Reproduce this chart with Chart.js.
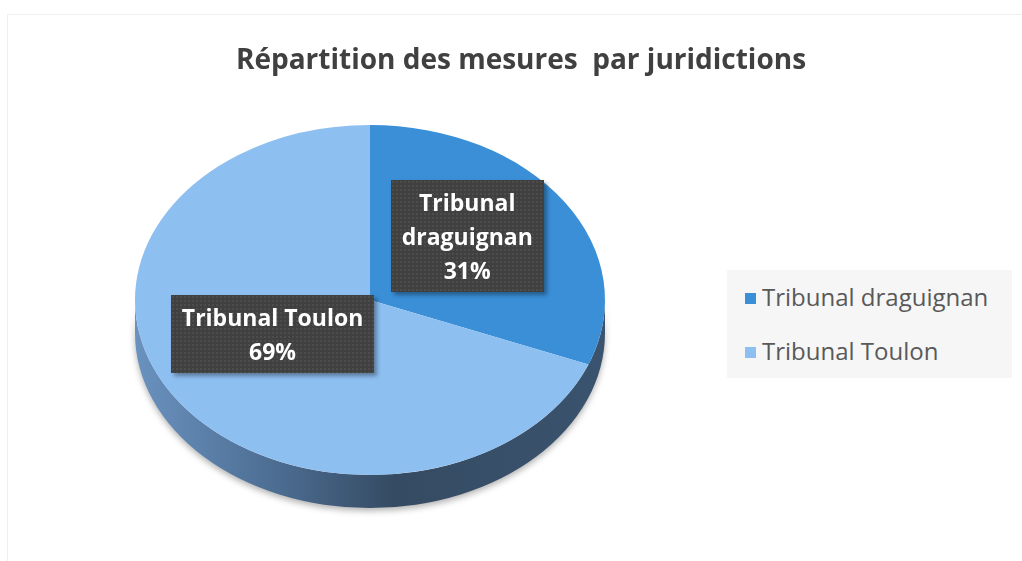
<!DOCTYPE html>
<html>
<head>
<meta charset="utf-8">
<script src="https://cdn.jsdelivr.net/npm/chart.js@4.4.1/dist/chart.umd.min.js"></script>
<style>
    html, body { margin: 0; padding: 0; background: #fff; }
    #wrap { position: relative; width: 1022px; height: 561px; overflow: hidden; }
    #frame { position: absolute; left: 7px; top: 14px; right: -2px; bottom: -2px; border: 1px solid #efefef; }
    #chart { position: absolute; left: 0; top: 0; }
    #title {
        position: absolute; left: 0; width: 1042px; top: 39px; text-align: center;
        font-family: "Open Sans", sans-serif; font-weight: 700; font-size: 28px; color: #404040;
        white-space: pre;
    }
    #legend {
        position: absolute; left: 727px; top: 270px; width: 285px; height: 108px;
        background: #f6f6f6; font-family: "Open Sans", sans-serif; font-size: 24px; color: #595959;
    }
    .leg-item { position: absolute; left: 18px; white-space: nowrap; }
    .leg-item span.sw { display: inline-block; width: 11px; height: 11px; margin-right: 6px; vertical-align: 2px; }
    .data-label {
        position: absolute; background: #404040; color: #fff; text-align: center;
        font-family: "Open Sans", sans-serif; font-weight: 700; font-size: 23px; line-height: 34px;
        padding: 5px 11px; box-shadow: 3px 3px 4px rgba(0,0,0,0.35);
        background-image: radial-gradient(rgba(255,255,255,0.07) 1px, transparent 1px);
        background-size: 4px 4px;
    }
</style>
</head>
<body>
<div id="wrap">
    <div id="frame"></div>
    <canvas id="chart" width="1022" height="561"></canvas>
    <div id="title">Répartition des mesures  par juridictions</div>
    <div id="legend"></div>
</div>
<script>
// Data
const categories = ['Tribunal draguignan', 'Tribunal Toulon'];
const values = [31, 69];
const labelLines = [['Tribunal', 'draguignan'], ['Tribunal Toulon']];
const colors = ['#3a8fd7', '#8ebff1'];

// 3D look
const squash = 175 / 235;
const depth = 33;

function pieCenter(chart) {
    const a = chart.getDatasetMeta(0).data[0];
    return { x: a.x, y: a.y, r: a.outerRadius };
}

const pie3d = {
    id: 'pie3d',
    beforeDatasetsDraw(chart) {
        const ctx = chart.ctx;
        const c = pieCenter(chart);
        const ry = c.r * squash;
        // side band
        const grad = ctx.createLinearGradient(c.x - c.r, 0, c.x + c.r, 0);
        grad.addColorStop(0, '#6a92bf');
        grad.addColorStop(0.3, '#4c6d92');
        grad.addColorStop(0.55, '#354b63');
        grad.addColorStop(1, '#3a536e');
        ctx.save();
        ctx.shadowColor = 'rgba(0,0,0,0.3)';
        ctx.shadowBlur = 6;
        ctx.shadowOffsetY = 3;
        ctx.fillStyle = grad;
        ctx.beginPath();
        ctx.ellipse(c.x, c.y + depth, c.r, ry, 0, 0, Math.PI);
        ctx.lineTo(c.x - c.r, c.y);
        ctx.ellipse(c.x, c.y, c.r, ry, 0, Math.PI, 0, true);
        ctx.closePath();
        ctx.fill();
        ctx.restore();
        // squash the top face
        ctx.save();
        ctx.translate(c.x, c.y);
        ctx.scale(1, squash);
        ctx.translate(-c.x, -c.y);
    },
    afterDatasetsDraw(chart) {
        chart.ctx.restore();
        placeLabels(chart);
    }
};

function placeLabels(chart) {
    const wrap = document.getElementById('wrap');
    const c = pieCenter(chart);
    const total = values.reduce((s, v) => s + v, 0);
    document.querySelectorAll('.data-label').forEach(el => el.remove());
    chart.getDatasetMeta(0).data.forEach((arc, i) => {
        const p = arc.tooltipPosition();
        const x = p.x;
        const y = c.y + (p.y - c.y) * squash - 15;
        const el = document.createElement('div');
        el.className = 'data-label';
        el.innerHTML = labelLines[i].join('<br>') + '<br>' + Math.round(values[i] / total * 100) + '%';
        wrap.appendChild(el);
        el.style.left = (x - el.offsetWidth / 2) + 'px';
        el.style.top = (y - el.offsetHeight / 2) + 'px';
    });
}

function buildLegend() {
    const legend = document.getElementById('legend');
    categories.forEach((name, i) => {
        const item = document.createElement('div');
        item.className = 'leg-item';
        item.style.top = (i === 0 ? 10 : 64) + 'px';
        item.innerHTML = `<span class="sw" style="background:${colors[i]}"></span>${name}`;
        legend.appendChild(item);
    });
}

buildLegend();

new Chart(document.getElementById('chart'), {
    type: 'pie',
    data: {
        labels: categories,
        datasets: [{
            data: values,
            backgroundColor: colors,
            borderWidth: 0
        }]
    },
    plugins: [pie3d],
    options: {
        responsive: false,
        animation: false,
        layout: { padding: { left: 135, right: 417, top: 65, bottom: 26 } },
        plugins: {
            legend: { display: false },
            tooltip: { enabled: false }
        }
    }
});
</script>
</body>
</html>
